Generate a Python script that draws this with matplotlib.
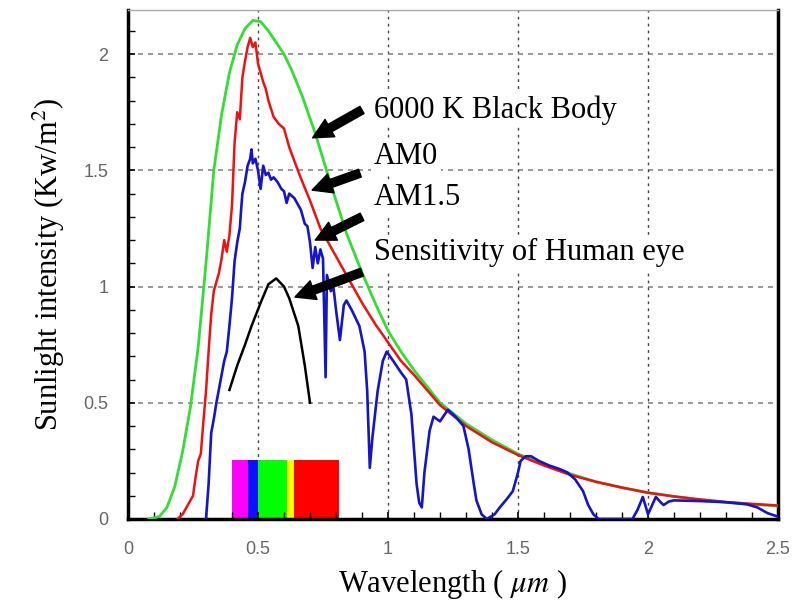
'''
Solar spectrum chart: black body, AM0, AM1.5 and eye sensitivity
'''

import numpy as np
import matplotlib
matplotlib.use('Agg')
import matplotlib.pyplot as plt

#Data

bb_x = [0.08, 0.12, 0.15, 0.18, 0.21, 0.24, 0.27, 0.30, 0.33, 0.36, 0.39, 0.42, 0.45,
        0.48, 0.51, 0.54, 0.57, 0.60, 0.63, 0.67, 0.72, 0.78, 0.84, 0.90, 0.95, 1.00,
        1.05, 1.10, 1.20, 1.30, 1.40, 1.50, 1.60, 1.70, 1.80, 1.90, 2.00, 2.10, 2.20,
        2.30, 2.40, 2.50]
bb_y = [0.0, 0.01, 0.05, 0.14, 0.29, 0.48, 0.74, 1.10, 1.50, 1.74, 1.92, 2.04, 2.11,
        2.145, 2.14, 2.10, 2.05, 2.00, 1.93, 1.82, 1.66, 1.44, 1.23, 1.06, 0.93, 0.81,
        0.72, 0.64, 0.50, 0.41, 0.34, 0.28, 0.235, 0.195, 0.16, 0.135, 0.113, 0.097, 0.083,
        0.072, 0.063, 0.056]

am0_x = [0.19, 0.21, 0.23, 0.25, 0.26, 0.27, 0.28, 0.29, 0.30, 0.31, 0.32, 0.33, 0.34,
         0.35, 0.36, 0.37, 0.38, 0.39, 0.40, 0.41, 0.42, 0.43, 0.44, 0.45, 0.46, 0.47,
         0.48, 0.49, 0.50, 0.51, 0.52, 0.53, 0.54, 0.56, 0.58, 0.60, 0.62, 0.66, 0.70,
         0.74, 0.80, 0.85, 0.90, 0.95, 1.00, 1.05, 1.10, 1.20, 1.30, 1.40, 1.50, 1.60,
         1.70, 1.80, 1.90, 2.00, 2.10, 2.20, 2.30, 2.40, 2.50]
am0_y = [0.0, 0.02, 0.06, 0.10, 0.18, 0.25, 0.28, 0.42, 0.55, 0.72, 0.88, 0.98, 1.02,
         1.06, 1.12, 1.20, 1.15, 1.22, 1.35, 1.62, 1.75, 1.72, 1.90, 1.97, 2.03, 2.07,
         2.03, 2.05, 1.96, 1.92, 1.88, 1.85, 1.80, 1.73, 1.70, 1.68, 1.60, 1.48, 1.37,
         1.25, 1.13, 1.03, 0.93, 0.84, 0.76, 0.68, 0.62, 0.49, 0.40, 0.33, 0.275, 0.23,
         0.19, 0.16, 0.135, 0.113, 0.097, 0.084, 0.073, 0.065, 0.058]

am15_x = [0.30, 0.31, 0.32, 0.33, 0.34, 0.35, 0.36, 0.37, 0.38, 0.39, 0.40, 0.41, 0.42,
          0.43, 0.435, 0.44, 0.45, 0.46, 0.47, 0.475, 0.48, 0.49, 0.50, 0.51, 0.52, 0.53,
          0.54, 0.55, 0.56, 0.575, 0.59, 0.60, 0.61, 0.62, 0.64, 0.665, 0.68, 0.69, 0.70,
          0.71, 0.72, 0.73, 0.74, 0.75, 0.76, 0.765, 0.78, 0.79, 0.80, 0.815, 0.83, 0.84,
          0.86, 0.89, 0.91, 0.92, 0.93, 0.94, 0.96, 0.98, 0.995, 1.02, 1.05, 1.07, 1.09,
          1.11, 1.12, 1.13, 1.14, 1.16, 1.175, 1.20, 1.23, 1.26, 1.29, 1.31, 1.33, 1.34,
          1.36, 1.38, 1.41, 1.43, 1.46, 1.48, 1.50, 1.51, 1.53, 1.55, 1.58, 1.62, 1.66,
          1.69, 1.72, 1.75, 1.77, 1.79, 1.81, 1.94, 1.96, 1.98, 2.00, 2.02, 2.03, 2.05,
          2.06, 2.08, 2.10, 2.20, 2.30, 2.38, 2.42, 2.46, 2.50]
am15_y = [0.0, 0.15, 0.37, 0.43, 0.50, 0.56, 0.62, 0.68, 0.72, 0.83, 0.95, 1.11, 1.19,
          1.25, 1.33, 1.40, 1.45, 1.52, 1.55, 1.59, 1.53, 1.55, 1.50, 1.42, 1.52, 1.48,
          1.49, 1.46, 1.47, 1.45, 1.42, 1.41, 1.36, 1.40, 1.38, 1.33, 1.27, 1.26, 1.19,
          1.08, 1.17, 1.10, 1.16, 1.12, 0.61, 1.05, 0.98, 1.00, 0.90, 0.77, 0.92, 0.94,
          0.90, 0.83, 0.72, 0.55, 0.22, 0.35, 0.55, 0.68, 0.72, 0.68, 0.63, 0.60, 0.45,
          0.15, 0.07, 0.05, 0.20, 0.38, 0.44, 0.42, 0.47, 0.44, 0.40, 0.30, 0.15, 0.08,
          0.02, 0.0, 0.02, 0.05, 0.09, 0.12, 0.20, 0.25, 0.27, 0.27, 0.25, 0.23, 0.215,
          0.20, 0.17, 0.12, 0.06, 0.02, 0.0, 0.0, 0.04, 0.095, 0.02, 0.07, 0.095, 0.07,
          0.06, 0.075, 0.08, 0.077, 0.072, 0.063, 0.05, 0.025, 0.01]

eye_x = [0.39, 0.42, 0.45, 0.475, 0.51, 0.54, 0.57, 0.60, 0.62, 0.655, 0.68, 0.70]
eye_y = [0.555, 0.66, 0.75, 0.83, 0.93, 1.01, 1.035, 1.00, 0.95, 0.83, 0.66, 0.50]

#visible spectrum strip
band_left = [0.40, 0.463, 0.50, 0.61, 0.64]
band_width = [0.063, 0.037, 0.11, 0.03, 0.17]
band_colors = ['#ff00ff', '#1010ff', '#00ff00', '#ffff00', '#ff0000']
band_height = 0.255

labels = ['6000 K Black Body', 'AM0', 'AM1.5', 'Sensitivity of Human eye']
label_y = [1.76, 1.56, 1.385, 1.145]
arrow_tail = [(0.90, 1.76), (0.892, 1.488), (0.90, 1.30), (0.90, 1.062)]
arrow_tip = [(0.71, 1.64), (0.708, 1.415), (0.72, 1.20), (0.642, 0.955)]

plt.rcParams['mathtext.fontset'] = 'stix'
serif = 'Liberation Serif'

fig = plt.figure(figsize=(7.97, 6.02), dpi=100)
ax = fig.add_axes([0.1606, 0.1379, 0.8156, 0.8455])

#grid
for g in [0.5, 1.0, 1.5, 2.0]:
    ax.axhline(g, color='#888888', lw=1.2, ls=(0, (3, 3)), zorder=0)
    ax.axvline(g, color='#444444', lw=1.0, ls=(0, (2, 3)), zorder=0)

ax.bar(band_left, [band_height] * len(band_left), band_width, align='edge',
       color=band_colors, edgecolor='none', zorder=1)

ax.plot(bb_x, bb_y, color='#33dd33', lw=2, zorder=3)
ax.plot(am0_x, am0_y, color='#ee1111', lw=1.8, zorder=4)
ax.plot(am15_x, am15_y, color='#1515c8', lw=1.9, zorder=5)
ax.plot(eye_x, eye_y, color='black', lw=1.8, zorder=5)

#labels with arrows
for lab, ly in zip(labels, label_y):
    ax.text(0.945, ly, lab, family=serif, fontsize=22, va='center', ha='left',
            bbox=dict(facecolor='white', edgecolor='none', pad=2), zorder=6)
for tail, tip in zip(arrow_tail, arrow_tip):
    ax.annotate('', xy=tip, xytext=tail, zorder=7,
                arrowprops=dict(arrowstyle='simple,head_length=0.65,head_width=0.65,tail_width=0.27',
                                color='black', mutation_scale=22, shrinkA=0, shrinkB=0))

ax.set_xlim(0, 2.5)
ax.set_ylim(0, 2.19)
ax.set_xticks([0, 0.5, 1, 1.5, 2, 2.5])
ax.set_xticklabels(['0', '0.5', '1', '1.5', '2', '2.5'])
ax.set_yticks([0, 0.5, 1, 1.5, 2])
ax.set_yticklabels(['0', '0.5', '1', '1.5', '2'])
ax.set_xticks(np.arange(0, 2.51, 0.1), minor=True)
ax.set_yticks(np.arange(0, 2.19, 0.1), minor=True)
ax.tick_params(which='both', direction='in', top=False, right=False, color='black')
ax.tick_params(which='major', length=5, width=1.2)
ax.tick_params(which='minor', length=5, width=1.0)
ax.tick_params(axis='x', pad=16, labelsize=13, labelcolor='#666666')
ax.tick_params(axis='y', pad=14, labelsize=13, labelcolor='#666666')
for t in ax.get_xticklabels() + ax.get_yticklabels():
    t.set_family('Liberation Sans')

for side in ['left', 'bottom', 'right']:
    ax.spines[side].set_linewidth(2.5)
    ax.spines[side].set_color('black')
ax.spines['top'].set_linewidth(1.0)
ax.spines['top'].set_color('#aaaaaa')

ax.set_xlabel('Wavelength ( $\\mu m$ )', family=serif, fontsize=22, labelpad=6)
ax.set_ylabel('Sunlight intensity (Kw/m$^2$)', family=serif, fontsize=22, labelpad=12)

plt.savefig('out.png', dpi=100)
